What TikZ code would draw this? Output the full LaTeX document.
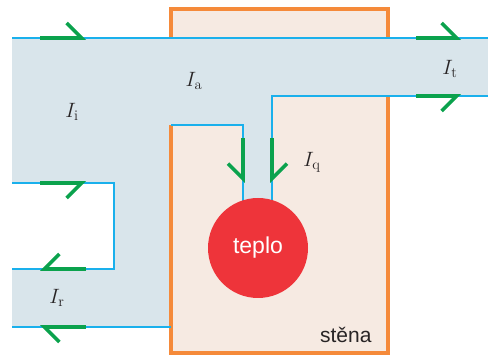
\documentclass[tikz,border=0pt]{standalone}
\usepackage{fontspec}
\setsansfont{Liberation Sans}
\usepackage{tikz}
\usetikzlibrary{arrows.meta,positioning,calc}
\definecolor{bandfill}{RGB}{217,229,235}
\definecolor{wallfill}{RGB}{246,234,226}
\definecolor{wallline}{RGB}{245,138,58}
\definecolor{edgeblue}{RGB}{26,176,236}
\definecolor{markgreen}{RGB}{11,162,77}
\definecolor{heatred}{RGB}{238,52,58}
\definecolor{textgrey}{RGB}{40,36,37}

\begin{document}
\begin{tikzpicture}[
    x=1pt,y=-1pt,
    wall/.style={draw=wallline,line width=3.6pt,fill=wallfill},
    edge/.style={draw=edgeblue,line width=2pt},
    markl/.style={draw=markgreen,line width=3.6pt,
      -{Straight Barb[left,length=15pt,width=30pt,line width=3.6pt,line cap=butt]}},
    markr/.style={draw=markgreen,line width=3.6pt,
      -{Straight Barb[right,length=15pt,width=30pt,line width=3.6pt,line cap=butt]}},
    flux/.style={font=\fontsize{21}{24}\selectfont,text=textgrey,inner sep=0pt},
    heat/.style={circle,fill=heatred,minimum size=100pt,inner sep=0pt,
      text=white,font=\sffamily\fontsize{23}{26}\selectfont}
  ]
    \useasboundingbox (0,0) rectangle (488,355);

    % stena
    \draw[wall] (171,9) rectangle (388,353);

    % pas toku
    \fill[bandfill] (12,38) -- (488,38) -- (488,96) -- (272,96) -- (272,230)
      -- (243,230) -- (243,125) -- (171,125) -- (171,327) -- (12,327)
      -- (12,269) -- (114,269) -- (114,183) -- (12,183) -- cycle;
    \draw[wallline,line width=3.6pt] (171,125) -- (171,354.8);
    \draw[edge] (12,38) -- (488,38);
    \draw[edge] (488,96) -- (272,96) -- (272,230);
    \draw[edge] (243,230) -- (243,125) -- (171,125);
    \draw[edge] (12,183) -- (114,183) -- (114,269) -- (12,269);
    \draw[edge] (12,327) -- (171,327);

    \node[heat] (teplo) at (258,248) {teplo};
    \node[font=\sffamily\fontsize{21}{24}\selectfont,text=textgrey,
      anchor=south east] (stena) at (375,346) {stěna};

    \node[flux] (Ii) at (72,112) {$I_{\mathrm{i}}$};
    \node[flux] (Ia) at (194,81) {$I_{\mathrm{a}}$};
    \node[flux] (It) at (450,69) {$I_{\mathrm{t}}$};
    \node[flux] (Iq) at (312,162) {$I_{\mathrm{q}}$};
    \node[flux] (Ir) at (57,298) {$I_{\mathrm{r}}$};

    % sipky smeru
    \coordinate (a1) at (40,38);  \coordinate (a2) at (86,38);
    \coordinate (b1) at (416,38); \coordinate (b2) at (461,38);
    \coordinate (c1) at (416,96); \coordinate (c2) at (461,96);
    \coordinate (d1) at (243,138); \coordinate (d2) at (243,183);
    \coordinate (e1) at (272,138); \coordinate (e2) at (272,183);
    \coordinate (f1) at (40,183); \coordinate (f2) at (86,183);
    \coordinate (g1) at (86,269); \coordinate (g2) at (40,269);
    \coordinate (h1) at (86,327); \coordinate (h2) at (40,327);
    \draw[markl] (a1) -- (a2);
    \draw[markl] (b1) -- (b2);
    \draw[markr] (c1) -- (c2);
    \draw[markr] (d1) -- (d2);
    \draw[markl] (e1) -- (e2);
    \draw[markr] (f1) -- (f2);
    \draw[markr] (g1) -- (g2);
    \draw[markl] (h1) -- (h2);
  \end{tikzpicture}
\end{document}
